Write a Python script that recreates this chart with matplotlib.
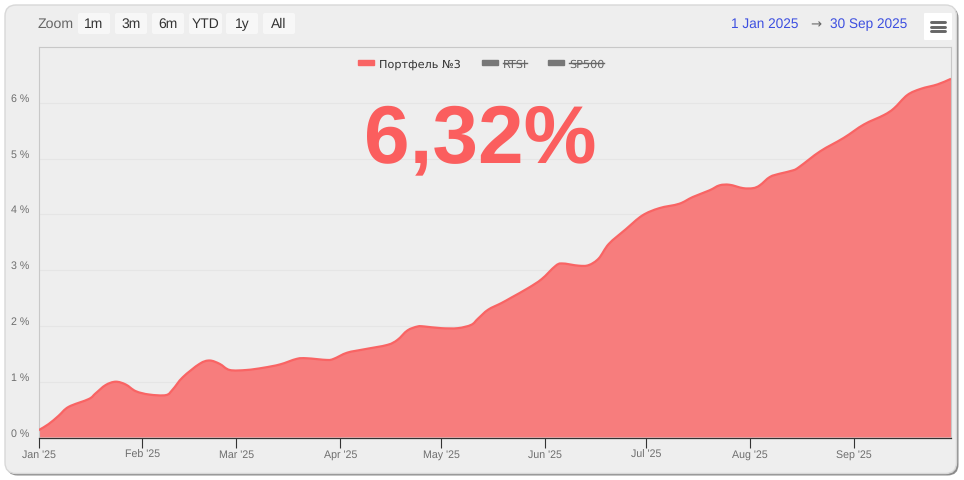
import numpy as np
import matplotlib
matplotlib.use("Agg")
import matplotlib.pyplot as plt
import matplotlib.dates as mdates
from matplotlib.patches import FancyBboxPatch, Patch, PathPatch
from matplotlib.path import Path
from matplotlib.transforms import ScaledTranslation

W, H = 964, 481
plt.rcParams['font.family'] = ['Liberation Sans', 'DejaVu Sans']
plt.rcParams['text.hinting'] = 'no_hinting'

day_offsets = [0, 3, 6, 9, 15, 17, 20, 23, 26, 29, 33, 38, 40, 43, 48, 51, 54, 57, 62, 67, 72, 77, 80, 86, 88, 92, 97,
               104, 107, 110, 113, 115, 120, 125, 129, 131, 134, 138, 141, 146, 150, 154, 156, 161, 164, 167, 170,
               175, 180, 185, 191, 195, 200, 203, 206, 210, 213, 215, 218, 221, 225, 227, 233, 240, 246, 252, 255,
               259, 263, 268, 272]
portfolio = [.13, .24, .39, .55, .69, .79, .94, 1.00, .95, .83, .77, .76, .86, 1.08, 1.32, 1.38, 1.32, 1.21, 1.21,
             1.25, 1.31, 1.41, 1.42, 1.39, 1.41, 1.52, 1.58, 1.66, 1.75, 1.92, 1.99, 1.99, 1.96, 1.96, 2.02, 2.13,
             2.29, 2.41, 2.51, 2.68, 2.84, 3.07, 3.12, 3.08, 3.09, 3.21, 3.47, 3.73, 3.98, 4.11, 4.19, 4.31, 4.43,
             4.52, 4.53, 4.47, 4.47, 4.52, 4.67, 4.73, 4.79, 4.86, 5.13, 5.37, 5.61, 5.78, 5.90, 6.14, 6.25, 6.33,
             6.43]
month_ticks = ['2025-01-01', '2025-02-01', '2025-03-01', '2025-04-01', '2025-05-01', '2025-06-01', '2025-07-01',
               '2025-08-01', '2025-09-01']
month_labels = ["Jan '25", "Feb '25", "Mar '25", "Apr '25", "May '25", "Jun '25", "Jul '25", "Aug '25", "Sep '25"]
y_ticks = [0, 1, 2, 3, 4, 5, 6]
y_labels = ['0 %', '1 %', '2 %', '3 %', '4 %', '5 %', '6 %']
zoom_buttons = ['1m', '3m', '6m', 'YTD', '1y', 'All']
legend_names = ['Портфель №3', 'RTSI', 'SP500']

dates = np.datetime64('2025-01-01') + np.array(day_offsets).astype('timedelta64[D]')
xs = mdates.date2num(dates)
ys = np.array(portfolio)


def spline_path(x, y):
    """Cubic Bezier segments through the read points (the chart's own spline look)."""
    p = np.column_stack([x, y])
    tan = np.zeros_like(p)
    tan[1:-1] = (p[2:] - p[:-2]) / 2
    tan[0], tan[-1] = p[1] - p[0], p[-1] - p[-2]
    verts, codes = [p[0]], [Path.MOVETO]
    for i in range(len(p) - 1):
        verts += [p[i] + tan[i] / 3, p[i + 1] - tan[i + 1] / 3, p[i + 1]]
        codes += [Path.CURVE4] * 3
    return verts, codes


fig = plt.figure(figsize=(W / 100, H / 100), dpi=100, facecolor='white')
bg = fig.add_axes([0, 0, 1, 1], zorder=0)
bg.set_xlim(0, W); bg.set_ylim(H, 0); bg.axis('off')

# card with shadow
bg.add_patch(FancyBboxPatch((6.5, 8), 952, 468.5, boxstyle="round,pad=0,rounding_size=11", fc='#8c8c8c', ec='none'))
bg.add_patch(FancyBboxPatch((5, 6), 951.5, 468.5, boxstyle="round,pad=0,rounding_size=11", fc='#eeeeee', ec='#d8d8d8', lw=1))

bg.text(38, 24.5, 'Zoom', fontsize=10.2, color='#666666', va='center', ha='left')
btn_x = [(78, 110), (115, 147), (152, 184), (189, 222), (226, 258), (263, 295)]
for (a, b), t in zip(btn_x, zoom_buttons):
    bg.add_patch(FancyBboxPatch((a, 14), b - a, 21, boxstyle="round,pad=0,rounding_size=2", fc='#f7f7f7', ec='none'))
    bg.text((a + b) / 2, 24.5, t, fontsize=10, color='#333333', va='center', ha='center')

bg.text(731, 24.5, '1 Jan 2025', fontsize=9.8, color='#3d4fe0', va='center', ha='left')
bg.text(821, 25, '→', fontsize=9.5, color='#666666', va='center', ha='right', family='DejaVu Sans')
bg.text(830, 24.5, '30 Sep 2025', fontsize=9.8, color='#3d4fe0', va='center', ha='left')

bg.add_patch(FancyBboxPatch((924, 14), 28, 27, boxstyle="round,pad=0,rounding_size=1", fc='white', ec='none'))
for yy in (22.5, 27.5, 32):
    bg.plot([931, 945], [yy, yy], color='#666666', lw=2.1, solid_capstyle='round')

L, R, T, B = 38.5, 951, 48, 438.5
ax = fig.add_axes([L / W, 1 - B / H, (R - L) / W, (B - T) / H], zorder=1)
ax.patch.set_alpha(0)
ax.set_xlim(xs[0], xs[-1])
ax.set_ylim(0, 7)

verts, codes = spline_path(xs, ys)
area = Path(verts + [(xs[-1], 0), (xs[0], 0), verts[0]], codes + [Path.LINETO, Path.LINETO, Path.CLOSEPOLY])
ax.add_patch(PathPatch(area, fc='#f77d7d', ec='none', zorder=2))
ax.add_patch(PathPatch(Path(verts, codes), fc='none', ec='#f96464', lw=1.6, zorder=3))

ax.set_yticks(y_ticks, y_labels)
ax.set_xticks(mdates.date2num(np.array(month_ticks, dtype='datetime64[D]')), month_labels)
ax.grid(axis='y', color='#e5e5e5', lw=.8, zorder=1)
ax.set_axisbelow(True)
ax.tick_params(axis='y', length=0, pad=6.5, labelsize=7.7, labelcolor='#6e6e6e')
ax.tick_params(axis='x', length=7, width=.8, color='#333333', pad=6.7, labelsize=7.7, labelcolor='#6e6e6e')
for s in ('top', 'left', 'right'):
    ax.spines[s].set_color('#c8c8c8'); ax.spines[s].set_linewidth(.8)
ax.spines['bottom'].set_color('#333333'); ax.spines['bottom'].set_linewidth(.9)
ax.spines['bottom'].set_zorder(5)

off = ScaledTranslation(0, 2.0 / 100, fig.dpi_scale_trans)
for lab in ax.get_yticklabels():
    lab.set_va('baseline')
    lab.set_transform(lab.get_transform() + off)
for lab in ax.get_xticklabels():
    lab.set_va('baseline')

ax.text(0.4845, 0.762, '6,32%', transform=ax.transAxes, fontsize=59, fontweight='bold', color='#fb5e5e',
        ha='center', va='center', zorder=6)

handles = [Patch(fc='#f96464', ec='#f96464'), Patch(fc='#777777', ec='#777777'), Patch(fc='#777777', ec='#777777')]
leg = ax.legend(handles, legend_names, ncols=3, loc='upper center', bbox_to_anchor=(0.485, 0.993), frameon=False,
                prop={'family': 'DejaVu Sans', 'size': 8.1}, handlelength=1.42, handleheight=.4, handletextpad=.45,
                columnspacing=1.87, borderaxespad=.35, labelcolor='#333333')
fig.canvas.draw()
r = fig.canvas.get_renderer()
for t in leg.get_texts()[1:]:
    t.set_color('#666666')
    bb = t.get_window_extent(r)
    yy = H - (bb.y0 + bb.y1) / 2
    bg.plot([bb.x0, bb.x1], [yy, yy], color='#666666', lw=1, zorder=3)
fig.savefig('out.png', dpi=100)
